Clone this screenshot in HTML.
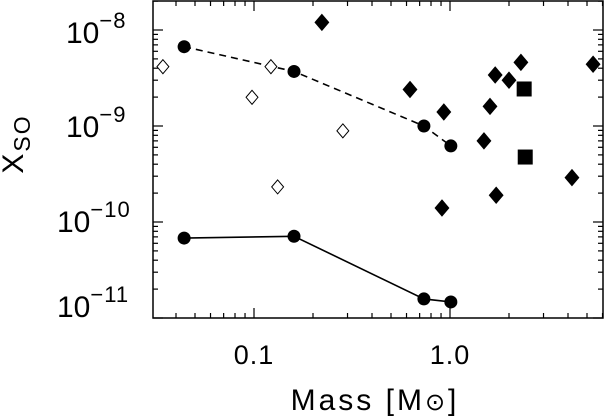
<!DOCTYPE html>
<html><head><meta charset="utf-8"><style>
body{margin:0;background:#fff;}
svg{display:block;font-family:"Liberation Sans","DejaVu Sans",sans-serif;}
</style></head><body>
<svg id="chart" width="604" height="419" viewBox="0 0 604 419" xmlns="http://www.w3.org/2000/svg">
<g id="axes"></g>
<g id="marks"></g>
<text transform="translate(23,144) rotate(-90)" text-anchor="middle" font-size="30" fill="#000" letter-spacing="2">X<tspan font-size="23" dy="7">SO</tspan></text>
<text x="375" y="410" text-anchor="middle" font-size="30" fill="#000" letter-spacing="3">Mass [M<tspan font-size="24">⊙</tspan>]</text>
</svg>
<script>
const modelMass = [0.044, 0.16, 0.736, 1.01];
const dashedModel = [6.7e-9, 3.7e-9, 1.0e-9, 6.2e-10];
const solidModel = [6.8e-11, 7.1e-11, 1.58e-11, 1.47e-11];
const openMass = [0.0343, 0.0977, 0.122, 0.284, 0.132];
const openX = [4.15e-9, 1.99e-9, 4.15e-9, 8.9e-10, 2.32e-10];
const filledMass = [0.222, 0.625, 0.93, 0.91, 1.49, 1.60, 1.70, 1.72, 2.0, 2.30, 4.19, 5.37];
const filledX = [1.2e-8, 2.4e-9, 1.4e-9, 1.4e-10, 7.0e-10, 1.6e-9, 3.4e-9, 1.9e-10, 3.0e-9, 4.6e-9, 2.9e-10, 4.4e-9];
const squareMass = [2.39, 2.42];
const squareX = [2.43e-9, 4.75e-10];
const xTicks = [0.1, 1.0];
const xTickLabels = ["0.1", "1.0"];
const yTicks = [-8, -9, -10, -11];

const L=153, R=603, T=1, B=318;
function xs(m){return 254 + (Math.log10(m)+1)*196;}
function ys(v){return 30 + (-8-Math.log10(v))*96;}
const NS="http://www.w3.org/2000/svg";
function mk(tag, attrs, parent){const e=document.createElementNS(NS,tag);for(const k in attrs)e.setAttribute(k,attrs[k]);parent.appendChild(e);return e;}
const axes=document.getElementById('axes');
const marks=document.getElementById('marks');

const frame=mk('rect',{x:L,y:T,width:R-L,height:B-T,fill:'none',stroke:'#000','stroke-width':1.5},axes);



for(let d=-2; d<=0; d++){
  for(let k=1;k<=9;k++){
    const m=k*Math.pow(10,d); const x=xs(m);
    if(x<L||x>R) continue;
    const len=k===1?10:5;
    const t1=mk('line',{x1:x,y1:B,x2:x,y2:B-len,stroke:'#000','stroke-width':1.2},axes);
    
    
    const t2=mk('line',{x1:x,y1:T,x2:x,y2:T+len,stroke:'#000','stroke-width':1.2},axes);
    
    
  }
}
xTicks.forEach((m,i)=>{
  const t=mk('text',{x:xs(m),y:364,'text-anchor':'middle','font-size':27,fill:'#000','letter-spacing':1},axes);
  t.textContent=xTickLabels[i];
  
  
});
for(let d=-12; d<=-8; d++){
  for(let k=1;k<=9;k++){
    const v=k*Math.pow(10,d); const y=ys(v);
    if(y<T||y>B) continue;
    const len=k===1?10:5;
    const a=mk('line',{x1:L,y1:y,x2:L+len,y2:y,stroke:'#000','stroke-width':1.2},axes);
    
    
    const b=mk('line',{x1:R,y1:y,x2:R-len,y2:y,stroke:'#000','stroke-width':1.2},axes);
    
    
  }
}
const labelOffset={"-8":13,"-9":11,"-10":10,"-11":-1};
yTicks.forEach(p=>{
  const y=ys(Math.pow(10,p));
  const t=mk('text',{x:p<=-10?57:66,y:y+labelOffset[p],'font-size':30,fill:'#000'},axes);
  t.textContent='10';
  const s=mk('tspan',{'font-size':22,dy:-15,'letter-spacing':1},t);
  s.textContent='−'+(-p);
  
  
});

function line(xsArr, ysArr, dash, name){
  const pts=xsArr.map((m,i)=>xs(m)+','+ys(ysArr[i])).join(' ');
  const p=mk('polyline',{points:pts,fill:'none',stroke:'#000','stroke-width':1.6},marks);
  if(dash)p.setAttribute('stroke-dasharray','7,5');
  
  
}
line(modelMass,dashedModel,true,'dashed-model-line');
line(modelMass,solidModel,false,'solid-model-line');
function circles(arr,name){
  modelMass.forEach((m,i)=>{
    const c=mk('circle',{cx:xs(m),cy:ys(arr[i]),r:6.5,fill:'#000'},marks);
    
    
  });
}
circles(dashedModel,'dashed-model-point');
circles(solidModel,'solid-model-point');
function diamond(x,y,h,fill){
  return mk('polygon',{points:`${x},${y-h} ${x+h*0.85},${y} ${x},${y+h} ${x-h*0.85},${y}`,fill:fill?'#000':'#fff',stroke:'#000','stroke-width':1},marks);
}
openMass.forEach((m,i)=>{
  const d=diamond(xs(m),ys(openX[i]),7,false);
  
  
});
filledMass.forEach((m,i)=>{
  const d=diamond(xs(m),ys(filledX[i]),8,true);
  
  
});
squareMass.forEach((m,i)=>{
  const s=mk('rect',{x:xs(m)-7.5,y:ys(squareX[i])-7.5,width:15,height:15,fill:'#000'},marks);
  
  
});
</script>
</body></html>
